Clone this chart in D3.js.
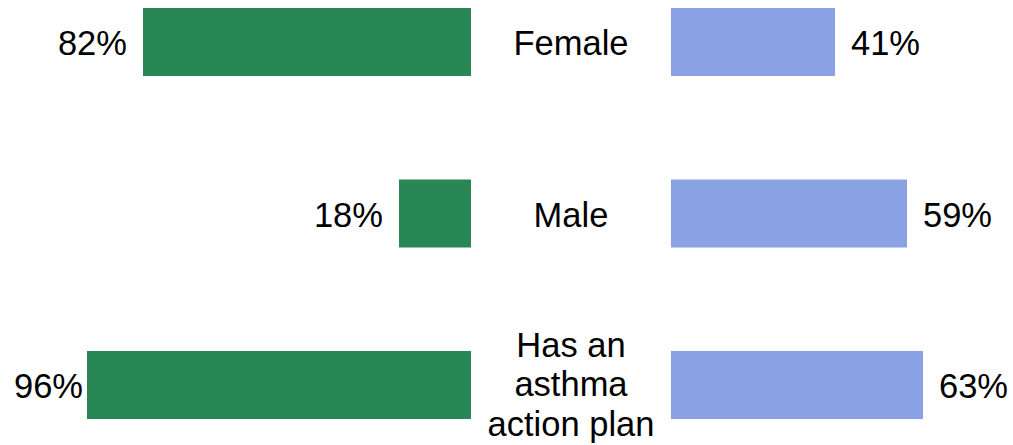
<!DOCTYPE html>
<html>
<head>
<meta charset="utf-8">
<script src="https://cdn.jsdelivr.net/npm/d3@7"></script>
<style>
  body { margin: 0; background: #fff; }
  svg { display: block; }
  text { font-family: "Liberation Sans", Arial, sans-serif; fill: #000; }
</style>
</head>
<body>
<svg></svg>
<script>
let width = 1013, height = 445;

// data
const categories = ["Female", "Male", "Has an asthma action plan"];
const categoryLines = [["Female"], ["Male"], ["Has an", "asthma", "action plan"]];
const leftValues = [82, 18, 96];
const rightValues = [41, 59, 63];

const leftColor = "#288755", rightColor = "#8aa2e3";

let svg = d3.select("svg")
    .attr("width", width)
    .attr("height", height);

let x = d3.scaleLinear().domain([0, 100]).range([0, 400]);
let leftEdge = 471, rightEdge = 671, midX = 571;

let y = d3.scaleBand()
    .domain(categories)
    .range([8, 419])
    .paddingInner(0.6035)
    .paddingOuter(0);

let fs = 34.5;

// left bars
svg.append("g").selectAll("rect")
    .data(categories)
    .enter()
    .append("rect")
    .attr("x", (d, i) => leftEdge - x(leftValues[i]))
    .attr("y", d => y(d))
    .attr("width", (d, i) => x(leftValues[i]))
    .attr("height", y.bandwidth())
    .attr("fill", leftColor);

// right bars
svg.append("g").selectAll("rect")
    .data(categories)
    .enter()
    .append("rect")
    .attr("x", rightEdge)
    .attr("y", d => y(d))
    .attr("width", (d, i) => x(rightValues[i]))
    .attr("height", y.bandwidth())
    .attr("fill", rightColor);

// left value labels
svg.append("g").selectAll("text")
    .data(categories)
    .enter()
    .append("text")
    .attr("x", (d, i) => leftEdge - x(leftValues[i]) - 16)
    .attr("y", d => y(d) + y.bandwidth() / 2)
    .attr("dy", "0.38em")
    .attr("text-anchor", "end")
    .style("font-size", fs + "px")
    .text((d, i) => leftValues[i] + "%")
    .each(function () {
        // keep inside the left edge
        let b = this.getBBox();
        if (b.x < 14) {
            d3.select(this).attr("x", +d3.select(this).attr("x") + (14 - b.x));
        }
    });

// right value labels
svg.append("g").selectAll("text")
    .data(categories)
    .enter()
    .append("text")
    .attr("x", (d, i) => rightEdge + x(rightValues[i]) + 16)
    .attr("y", d => y(d) + y.bandwidth() / 2)
    .attr("dy", "0.38em")
    .attr("text-anchor", "start")
    .style("font-size", fs + "px")
    .text((d, i) => rightValues[i] + "%");

// category labels
let lineH = 39.5;
svg.append("g").selectAll("text")
    .data(categories)
    .enter()
    .append("text")
    .attr("text-anchor", "middle")
    .style("font-size", fs + "px")
    .each(function (d, i) {
        let lines = categoryLines[i];
        let cy = y(d) + y.bandwidth() / 2;
        let start = cy - (lines.length - 1) * lineH / 2;
        d3.select(this).selectAll("tspan")
            .data(lines)
            .enter()
            .append("tspan")
            .attr("x", midX)
            .attr("y", (l, j) => start + j * lineH)
            .attr("dy", lines.length > 1 ? "0.33em" : "0.39em")
            .text(l => l);
    });
</script>
</body>
</html>
